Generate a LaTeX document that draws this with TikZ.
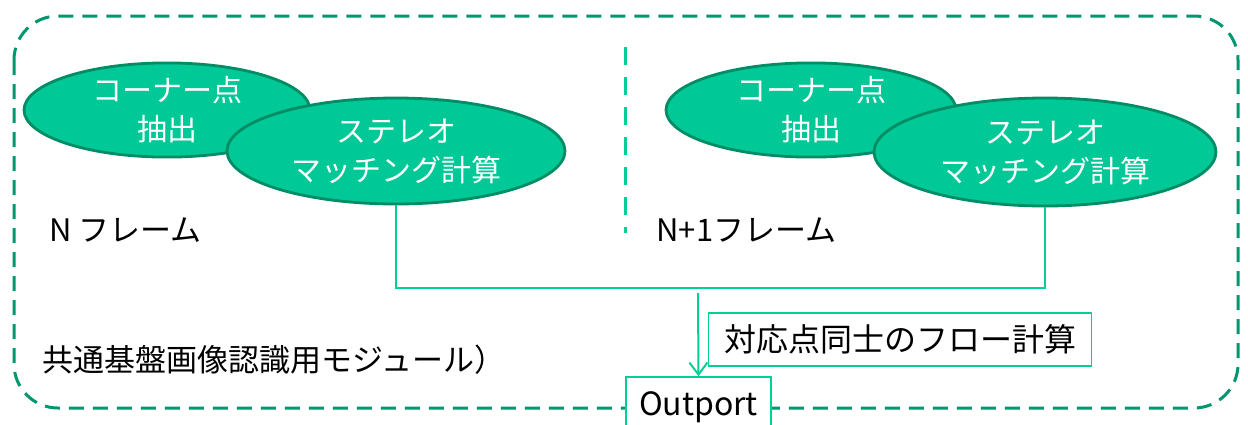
\documentclass[tikz,border=0pt]{standalone}
\usepackage{fontspec}
\setmainfont{Noto Sans CJK JP}
\usetikzlibrary{arrows.meta,positioning,shapes.geometric}

\definecolor{frameGreen}{RGB}{0,150,110}
\definecolor{fillGreen}{RGB}{0,200,150}
\definecolor{edgeGreen}{RGB}{0,140,100}
\definecolor{lineGreen}{RGB}{0,208,150}

\begin{document}
\begin{tikzpicture}[
  x=0.5pt, y=-0.5pt,
  blob/.style={
    ellipse, draw=edgeGreen, fill=fillGreen, line width=1.4pt,
    text=white, align=center, inner sep=0pt,
    font=\fontsize{15}{19.5}\selectfont,
  },
  label/.style={font=\fontsize{15.5}{19}\selectfont, anchor=west, inner sep=0pt},
  tagbox/.style={draw=lineGreen, fill=white, line width=0.8pt, inner sep=0pt,
    font=\fontsize{16}{19}\selectfont},
  link/.style={draw=lineGreen, line width=1pt},
  arrow/.style={link, -{Straight Barb[length=6pt,width=9pt]}},
  frame/.style={draw=frameGreen, line width=1.5pt, dash pattern=on 7.5pt off 4.5pt},
]
\useasboundingbox (0,0) rectangle (1248,424);

% Outer module frame
\draw[frame, rounded corners=22pt] (14,16) rectangle (1238,408);

% Frame divider
\draw[draw=lineGreen, line width=1.5pt, dash pattern=on 9pt off 6pt] (625,47) -- (625,233);

% N frame
\node[blob, minimum width=143pt, minimum height=42.5pt] (cornerL) at (167,110) {コーナー点\\抽出};
\node[blob, minimum width=169pt, minimum height=53pt] (stereoL) at (396,151) {ステレオ\\マッチング計算};
\node[label] (frameL) at (49,230) {N フレーム};

% N+1 frame
\node[blob, minimum width=145pt, minimum height=42.5pt] (cornerR) at (811,110) {コーナー点\\抽出};
\node[blob, minimum width=171pt, minimum height=54pt] (stereoR) at (1045,152) {ステレオ\\マッチング計算};
\node[label] (frameR) at (656,230) {N+1フレーム};

% Module name
\node[label] (module) at (42,360) {共通基盤画像認識用モジュール）};

% Flow computation
\node[tagbox, minimum width=191.5pt, minimum height=26.5pt] (flow) at (900,339.5) {対応点同士のフロー計算};
\node[tagbox, minimum width=72.5pt, minimum height=30pt] (outport) at (698.5,407) {Outport};

\coordinate (bus) at (0,288);
\coordinate (merge) at (698,293);
\draw[link] (stereoL.south) |- (stereoR.south |- bus) -- (stereoR.south);
\draw[arrow] (merge) -- (outport.north);

\end{tikzpicture}
\end{document}
